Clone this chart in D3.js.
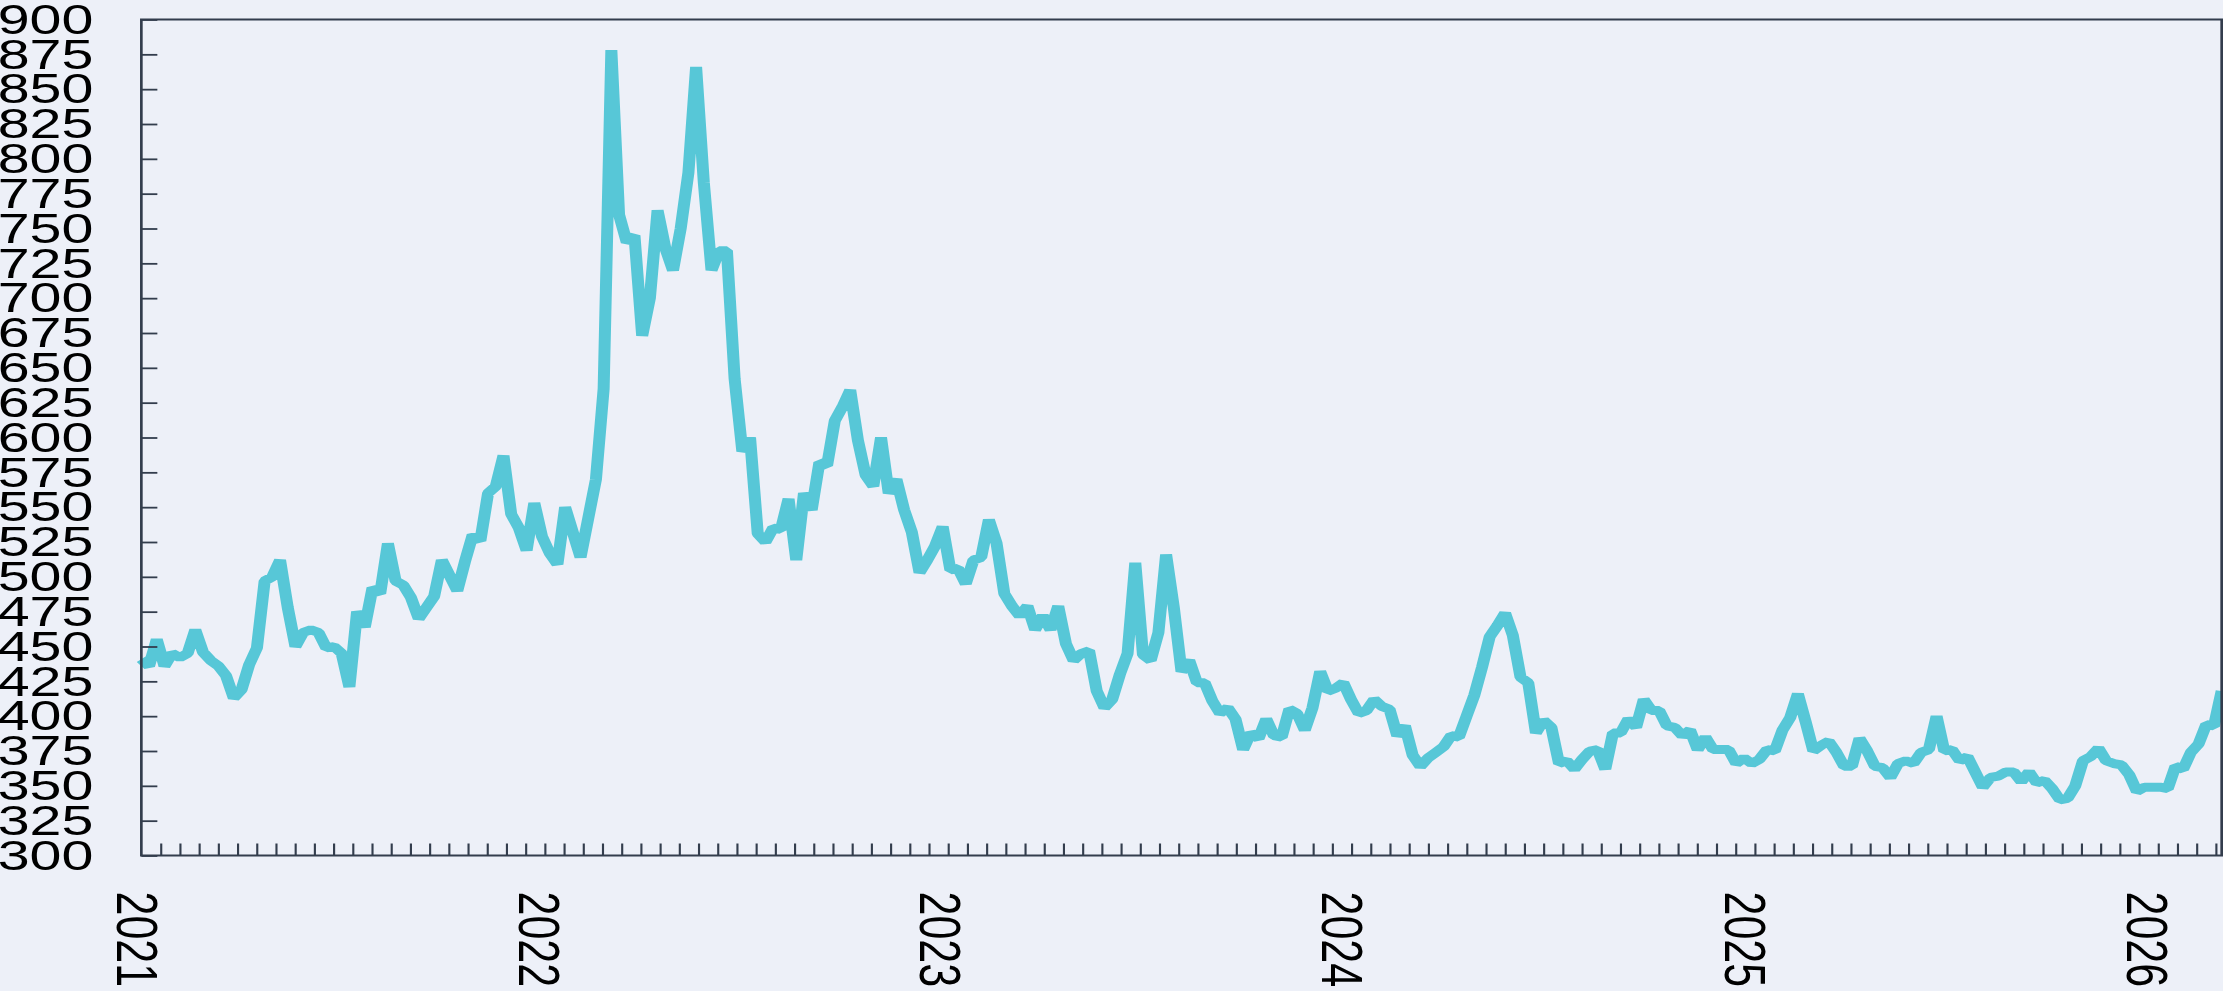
<!DOCTYPE html>
<html>
<head>
<meta charset="utf-8">
<script src="https://cdn.jsdelivr.net/npm/d3@7"></script>
<style>
html, body { margin: 0; padding: 0; background: #edf0f8; overflow: hidden; }
svg { display: block; }
text { font-family: "Liberation Sans", Arial, Helvetica, sans-serif; }
</style>
</head>
<body>
<svg id="chart" width="2223" height="991"></svg>
<script>
const startDate = "2021-01-01";
const endDate = "2026-03-06";
const stepDays = 7;
const values = [
  441,436,455,436,445,442,445,462,446,440,
  436,429,413,419,437,449,497,500,512,478,
  450,460,462,460,449,450,445,421,475,464,
  492,488,524,497,494,485,470,478,486,512,
  501,490,511,530,526,560,565,587,545,535,
  519,553,529,517,509,550,532,514,542,570,
  635,878,760,740,745,673,700,763,736,720,
  750,790,866,783,720,734,734,642,590,600,
  531,525,535,534,556,512,560,548,582,580,
  612,622,634,598,573,565,600,560,570,548,
  532,503,512,522,536,505,506,495,512,514,
  541,524,488,479,472,479,462,472,462,479,
  452,440,445,447,418,406,412,430,445,510,
  444,440,460,516,478,432,440,424,424,411,
  402,406,398,376,388,384,398,386,385,405,
  402,390,406,432,418,420,424,412,402,404,
  412,407,405,386,393,372,364,370,374,378,
  386,385,400,415,435,457,465,474,458,428,
  424,388,397,392,366,368,362,369,375,376,
  362,388,388,398,392,412,404,404,393,392,
  386,390,376,385,376,376,376,366,370,366,
  369,376,375,390,399,416,396,375,379,382,
  374,364,364,384,375,364,363,356,366,368,
  366,374,376,400,375,376,368,371,360,349,
  356,357,360,360,353,360,352,354,348,340,
  341,350,368,371,377,368,366,365,358,346,
  349,349,349,348,364,362,374,380,394,393,
  418
];
const yTickValues = [300,325,350,375,400,425,450,475,500,525,550,575,600,625,650,675,700,725,750,775,800,825,850,875,900];
const yearLabels = ["2021","2022","2023","2024","2025","2026"];
const minorTickStepDays = 17.45;

// ---------- LAYOUT (drawn in a narrower viewBox, stretched horizontally) ----------
const VBW = 1667, VBH = 991;
const mLeft = 106, mRight = 1666, mTop = 19.5, mBottom = 855.5;
const axisColor = "#333d4d";
const lineColor = "#57c7d7";

const svg = d3.select("#chart")
  .attr("viewBox", `0 0 ${VBW} ${VBH}`)
  .attr("preserveAspectRatio", "none");

const parse = d3.utcParse("%Y-%m-%d");
const t0 = parse(startDate), t1 = parse(endDate);
const data = values.map((v, i) => ({ date: d3.utcDay.offset(t0, i * stepDays), value: v }));

const x = d3.scaleUtc().domain([t0, t1]).range([mLeft, mRight]);
const y = d3.scaleLinear().domain([300, 900]).range([mBottom, mTop]);

svg.append("rect").attr("x", 0).attr("y", 0).attr("width", VBW).attr("height", VBH).attr("fill", "#edf0f8");

// line
const line = d3.line().x(d => x(d.date)).y(d => y(d.value));
svg.append("path")
  .datum(data)
  .attr("d", line)
  .attr("fill", "none")
  .attr("stroke", lineColor)
  .attr("stroke-width", 9)
  .attr("stroke-linejoin", "bevel")
  .attr("stroke-linecap", "butt");

// y axis
const yAxis = svg.append("g")
  .attr("transform", `translate(${mLeft},0)`)
  .call(d3.axisLeft(y).tickValues(yTickValues).tickSizeInner(-12).tickSizeOuter(0).tickPadding(36).tickFormat(d3.format("d")));
yAxis.select(".domain").remove();
yAxis.selectAll(".tick line").attr("stroke", axisColor).attr("stroke-width", 1.8);
yAxis.selectAll(".tick text").attr("fill", "#000").style("font-size", "43px");

// x minor ticks
const minorDates = [];
for (let k = 1; ; k++) {
  const d = new Date(t0.getTime() + k * minorTickStepDays * 864e5);
  if (d >= t1) break;
  minorDates.push(d);
}
const xMinor = svg.append("g")
  .attr("transform", `translate(0,${mBottom})`)
  .call(d3.axisBottom(x).tickValues(minorDates).tickSizeInner(-12).tickSizeOuter(0).tickFormat(""));
xMinor.select(".domain").remove();
xMinor.selectAll(".tick line").attr("stroke", axisColor).attr("stroke-width", 1.6);

// x year labels
const yearDates = yearLabels.map(s => parse(s + "-01-01"));
const xMajor = svg.append("g")
  .attr("transform", `translate(0,${mBottom})`)
  .call(d3.axisBottom(x).tickValues(yearDates).tickSize(0).tickFormat((d, i) => yearLabels[i]));
xMajor.select(".domain").remove();
xMajor.selectAll(".tick text")
  .attr("fill", "#000")
  .style("font-size", "43px")
  .style("text-anchor", "start")
  .attr("transform", "rotate(90)")
  .attr("x", 36)
  .attr("y", 0)
  .attr("dy", "0.44em");

// frame
svg.append("rect")
  .attr("x", mLeft).attr("y", mTop)
  .attr("width", mRight - mLeft).attr("height", mBottom - mTop)
  .attr("fill", "none")
  .attr("stroke", axisColor)
  .attr("stroke-width", 2);
</script>
</body>
</html>
